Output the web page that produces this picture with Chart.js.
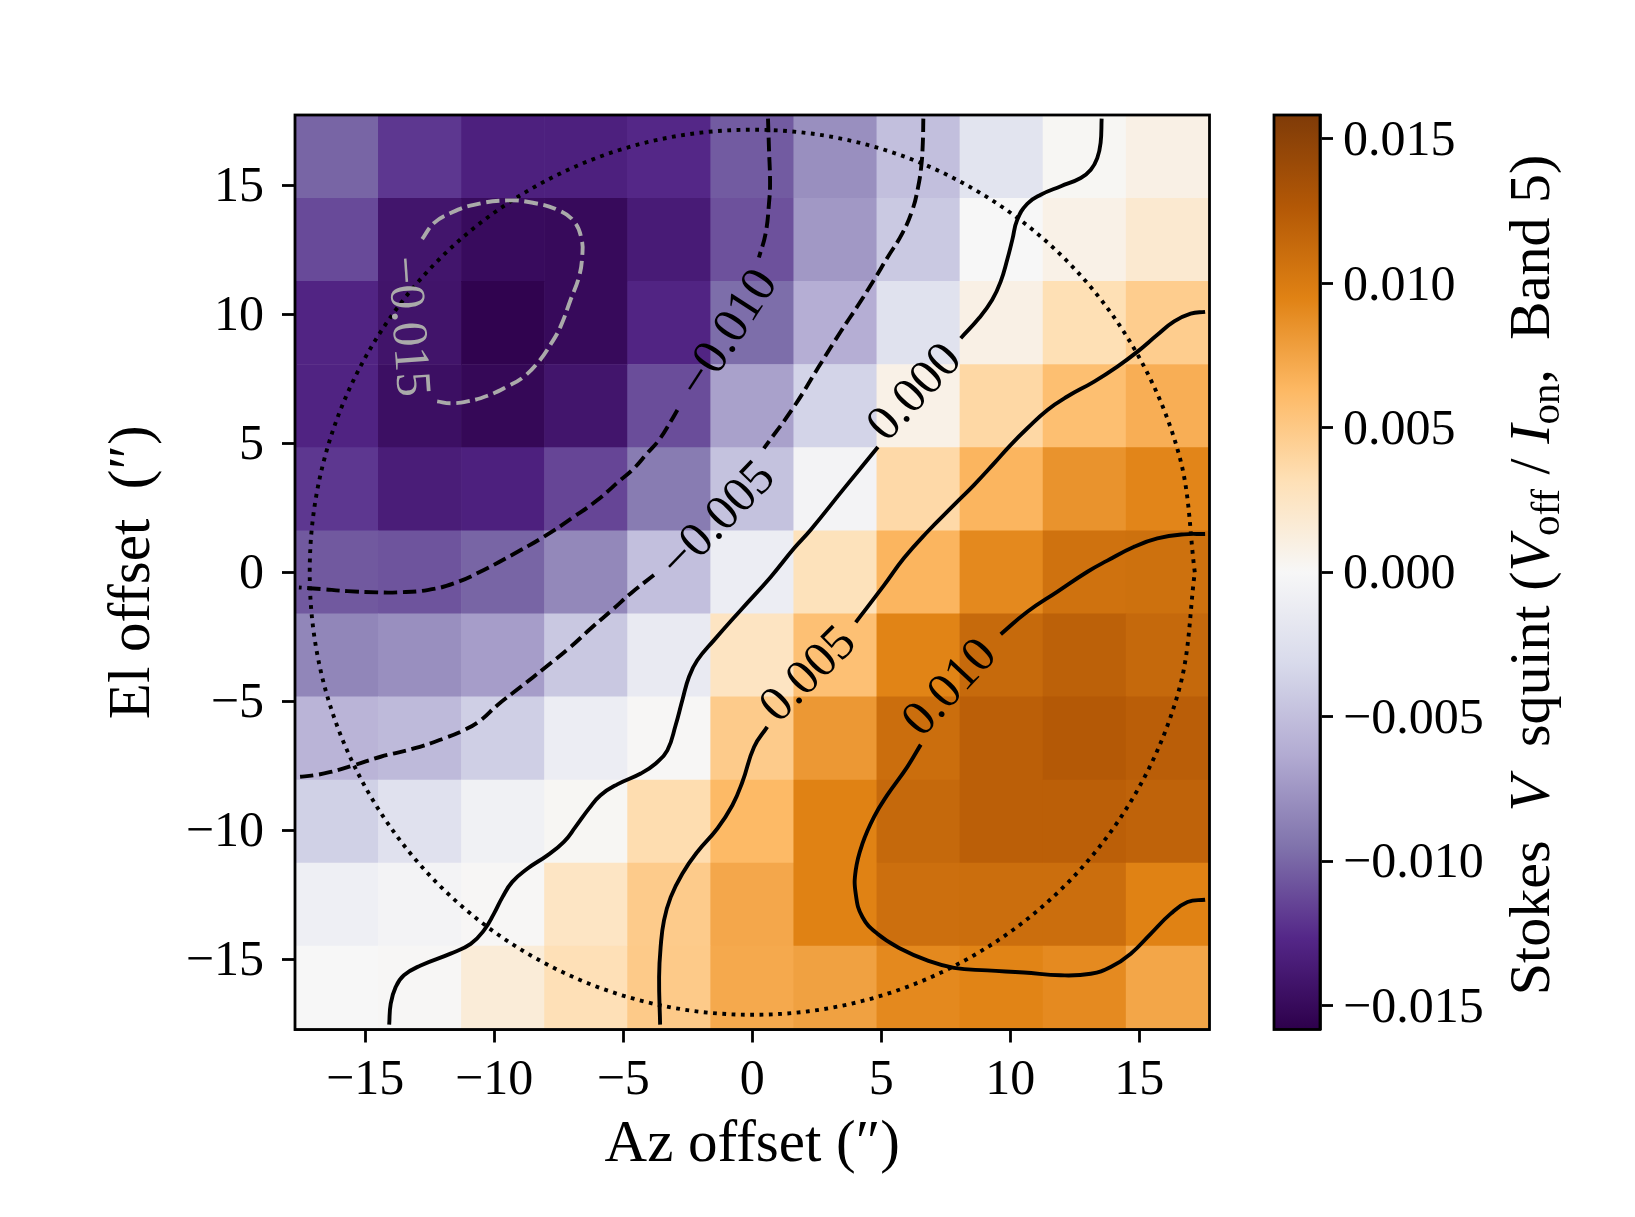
<!DOCTYPE html>
<html>
<head>
<meta charset="utf-8">
<title>Stokes V squint</title>
<script src="https://cdn.jsdelivr.net/npm/chart.js@4"></script>
<style>
html,body{margin:0;padding:0;background:#fff;}
#wrap{position:relative;width:1635px;height:1217px;overflow:hidden;}
canvas{position:absolute;left:0;top:0;}
</style>
</head>
<body>
<div id="wrap"><canvas id="main" width="1635" height="1217"></canvas><canvas id="bar" width="1635" height="1217"></canvas></div>
<script>
const xTickValues = [-15,-10,-5,0,5,10,15];
const yTickValues = [-15,-10,-5,0,5,10,15];
const barTickValues = [-0.015,-0.010,-0.005,0,0.005,0.010,0.015];
const axisLimit = 17.72;
const colorLimit = 0.01583;
const cellSize = 3.22;
const colCenters = [-16.1,-12.88,-9.66,-6.44,-3.22,0,3.22,6.44,9.66,12.88,16.1];
const rowCenters = [16.1,12.88,9.66,6.44,3.22,0,-3.22,-6.44,-9.66,-12.88,-16.1];
const row01 = [-0.0101,-0.0120,-0.0132,-0.0132,-0.0127,-0.0105,-0.0079,-0.0050,-0.0021,0.0002,0.0009];
const row02 = [-0.0112,-0.0141,-0.0149,-0.0150,-0.0136,-0.0109,-0.0074,-0.0043,0.0000,0.0008,0.0019];
const row03 = [-0.0129,-0.0142,-0.0156,-0.0150,-0.0129,-0.0097,-0.0061,-0.0023,0.0009,0.0032,0.0047];
const row04 = [-0.0130,-0.0146,-0.0152,-0.0141,-0.0111,-0.0069,-0.0036,0.0008,0.0038,0.0058,0.0069];
const row05 = [-0.0120,-0.0135,-0.0132,-0.0114,-0.0090,-0.0048,-0.0004,0.0037,0.0065,0.0085,0.0093];
const row06 = [-0.0106,-0.0108,-0.0101,-0.0083,-0.0050,-0.0011,0.0029,0.0065,0.0091,0.0107,0.0108];
const row07 = [-0.0084,-0.0079,-0.0071,-0.0044,-0.0014,0.0026,0.0057,0.0094,0.0113,0.0120,0.0114];
const row08 = [-0.0057,-0.0053,-0.0039,-0.0011,0.0001,0.0048,0.0082,0.0110,0.0121,0.0126,0.0122];
const row09 = [-0.0038,-0.0024,-0.0007,0.0002,0.0034,0.0062,0.0095,0.0114,0.0121,0.0121,0.0118];
const row10 = [-0.0009,-0.0004,0.0001,0.0025,0.0048,0.0073,0.0095,0.0109,0.0110,0.0110,0.0095];
const row11 = [0.0000,0.0001,0.0015,0.0031,0.0049,0.0072,0.0077,0.0091,0.0094,0.0090,0.0074];
const cellRows = [row01,row02,row03,row04,row05,row06,row07,row08,row09,row10,row11];
const colormapStops = ['#2d004b','#542788','#8073ac','#b2abd2','#d8daeb','#f7f7f7','#fee0b6','#fdb863','#e08214','#b35806','#7f3b08'];

const contourZeroUpper = [[13.54,17.58],[13.5,16.64],[13.37,16.05],[13.12,15.6],[12.73,15.28],[11.96,14.96],[11.18,14.63],[10.66,14.28],[10.27,13.66],[10.08,12.89],[9.88,12.11],[9.63,11.27],[9.3,10.56],[8.79,9.85],[8.08,9.07]];
const contourZeroLower = [[4.87,4.85],[3.56,3.25],[2.26,1.64],[1.62,0.93],[0.7,-0.2],[-0.45,-1.47],[-1.48,-2.63],[-2.13,-3.41],[-2.45,-4.05],[-2.71,-4.96],[-2.97,-5.93],[-3.29,-6.9],[-3.74,-7.41],[-4.32,-7.8],[-5.23,-8.22],[-5.88,-8.64],[-6.33,-9.16],[-6.85,-9.87],[-7.3,-10.45],[-7.94,-10.97],[-8.72,-11.49],[-9.3,-12.0],[-9.68,-12.59],[-10.01,-13.23],[-10.4,-13.88],[-10.91,-14.4],[-11.69,-14.78],[-12.85,-15.24],[-13.5,-15.62],[-13.82,-16.08],[-14.01,-16.72],[-14.07,-17.53]];
const contourP005Upper = [[17.55,10.09],[16.99,10.02],[16.35,9.72],[15.7,9.2],[14.93,8.55],[14.15,7.97],[13.25,7.39],[12.21,6.81],[11.44,6.29],[10.66,5.58],[10.01,4.93],[9.37,4.22],[8.59,3.38],[7.82,2.61],[6.79,1.57],[5.88,0.55],[5.11,-0.5],[4.01,-1.94]];
const contourP005Lower = [[0.58,-5.99],[0.07,-6.77],[-0.38,-8.12],[-0.77,-9.03],[-1.35,-9.93],[-2.13,-10.84],[-2.71,-11.68],[-3.16,-12.59],[-3.42,-13.49],[-3.55,-14.52],[-3.61,-15.69],[-3.57,-17.53]];
const contourP010Upper = [[17.55,1.48],[16.73,1.47],[15.7,1.31],[14.8,0.99],[13.76,0.45],[12.99,0.02],[11.83,-0.75],[10.66,-1.53],[9.63,-2.4]];
const contourP010Lower = [[6.53,-6.68],[6.01,-7.54],[5.23,-8.64],[4.72,-9.48],[4.27,-10.52],[4.01,-11.55],[4.01,-12.46],[4.27,-13.36],[4.85,-14.01],[5.75,-14.59],[6.78,-15.04],[7.82,-15.33],[9.11,-15.43],[10.53,-15.51],[11.95,-15.62],[13.12,-15.56],[13.89,-15.3],[14.67,-14.78],[15.44,-14.01],[16.22,-13.23],[16.87,-12.78],[17.55,-12.69]];
const contourM005Upper = [[6.63,17.58],[6.61,16.64],[6.55,15.73],[6.42,14.89],[6.21,14.05],[5.82,13.14],[5.23,12.18],[4.72,11.33],[4.07,10.3],[3.43,9.33],[2.58,7.97],[1.62,6.42],[0.45,4.8]];
const contourM005Lower = [[-3.81,-0.11],[-4.71,-0.82],[-5.36,-1.4],[-6.26,-2.18],[-7.04,-2.89],[-8.07,-3.73],[-8.97,-4.44],[-9.88,-5.15],[-10.52,-5.73],[-11.17,-6.12],[-11.95,-6.44],[-13.11,-6.83],[-14.4,-7.15],[-15.44,-7.48],[-16.34,-7.74],[-16.99,-7.87],[-17.57,-7.93]];
const contourM010Upper = [[0.61,17.58],[0.65,16.37],[0.69,15.08],[0.65,14.31],[0.52,13.14],[0.26,12.2]];
const contourM010Lower = [[-2.9,6.29],[-3.16,5.84],[-3.61,5.13],[-4.07,4.61],[-4.58,4.03],[-5.1,3.58],[-6,2.8],[-6.91,2.15],[-8.07,1.38],[-8.97,0.86],[-10.4,0.09],[-11.56,-0.43],[-12.59,-0.69],[-13.75,-0.78],[-14.53,-0.78],[-15.69,-0.73],[-16.73,-0.65],[-17.57,-0.59]];
const contourM015 = [[-12.79,12.91],[-12.34,13.53],[-11.69,13.92],[-10.79,14.24],[-9.49,14.41],[-8.46,14.31],[-7.56,14.05],[-6.91,13.6],[-6.61,12.89],[-6.59,12.24],[-6.71,11.46],[-7.04,10.56],[-7.43,9.52],[-7.82,8.82],[-8.27,8.17],[-8.85,7.58],[-9.49,7.2],[-10.26,6.84],[-11.04,6.62],[-11.69,6.55],[-12.21,6.62]];
const beamCircle = [[17.15,0],[16.57,4.44],[14.85,8.58],[12.13,12.13],[8.58,14.85],[4.44,16.57],[0,17.15],[-4.44,16.57],[-8.58,14.85],[-12.13,12.13],[-14.85,8.58],[-16.57,4.44],[-17.15,0],[-16.57,-4.44],[-14.85,-8.58],[-12.13,-12.13],[-8.58,-14.85],[-4.44,-16.57],[0,-17.15],[4.44,-16.57],[8.58,-14.85],[12.13,-12.13],[14.85,-8.58],[16.57,-4.44],[17.15,0]];

const contourLabels = [
  {text:'0.000', x:6.33, y:6.94, angle:-47, color:'#000'},
  {text:'0.005', x:2.2, y:-3.99, angle:-45, color:'#000'},
  {text:'0.010', x:7.69, y:-4.5, angle:-47, color:'#000'},
  {text:'\u22120.005', x:-1.3, y:2.0, angle:-46, color:'#000'},
  {text:'\u22120.010', x:-0.9, y:9.23, angle:-57, color:'#000'},
  {text:'\u22120.015', x:-13.4, y:9.52, angle:86, color:'#aaaaaa'}
];

const SERIF = '"Liberation Serif", serif';
const minus = s => String(s).replace('-', '\u2212');
const LW = 3.9, SPINE = 2.8, TICK = 13;

function hexRgb(h){ return [1,3,5].map(i => parseInt(h.substr(i,2),16)); }
function cmap(v){
  let t = (v + colorLimit) / (2*colorLimit);
  t = Math.max(0, Math.min(1, t)) * (colormapStops.length - 1);
  const i = Math.min(Math.floor(t), colormapStops.length - 2), f = t - i;
  const a = hexRgb(colormapStops[i]), b = hexRgb(colormapStops[i+1]);
  return 'rgb(' + a.map((c,k) => Math.round(c + (b[k]-c)*f)).join(',') + ')';
}
const pts = arr => arr.map(p => ({x:p[0], y:p[1]}));
const cellData = [], cellColors = [];
cellRows.forEach((row, r) => row.forEach((v, c) => {
  cellData.push({x: colCenters[c], y: [rowCenters[r]-cellSize/2, rowCenters[r]+cellSize/2]});
  cellColors.push(cmap(v));
}));
function contour(arr, dash, color){
  return {type:'scatter', showLine:true, data:pts(arr), borderColor:color||'#000', borderWidth:LW,
    borderDash:dash||[], borderCapStyle:'butt', pointRadius:0, tension:0.45, order:1, fill:false};
}
const DASH = [13.5,5.7];

const spinePlugin = {id:'spine', afterDatasetsDraw(chart){
  const {ctx, chartArea:a} = chart;
  ctx.save(); ctx.strokeStyle='#000'; ctx.lineWidth=SPINE;
  ctx.strokeRect(a.left, a.top, a.right-a.left, a.bottom-a.top); ctx.restore();
}};
const labelPlugin = {id:'clabels', afterDatasetsDraw(chart){
  const {ctx, scales} = chart;
  contourLabels.forEach(l => {
    ctx.save();
    ctx.translate(scales.x.getPixelForValue(l.x), scales.y.getPixelForValue(l.y));
    ctx.rotate(l.angle*Math.PI/180);
    ctx.font = '50px ' + SERIF; ctx.fillStyle = l.color;
    ctx.textAlign='center'; ctx.textBaseline='middle';
    ctx.fillText(l.text, 0, 0);
    ctx.restore();
  });
}};
const tickGrid = {display:true, offset:false, drawOnChartArea:false, drawTicks:true, tickLength:TICK, tickWidth:SPINE, tickColor:'#000'};
const baseScale = {
  type:'linear', min:-axisLimit, max:axisLimit,
  border:{display:true, color:'#000', width:SPINE},
  grid:tickGrid
};
new Chart(document.getElementById('main'), {
  type:'bar',
  data:{datasets:[
    {type:'bar', data:cellData, backgroundColor:cellColors, borderWidth:0, grouped:false, barPercentage:1, categoryPercentage:1, order:10},
    contour(contourZeroUpper), contour(contourZeroLower),
    contour(contourP005Upper), contour(contourP005Lower),
    contour(contourP010Upper), contour(contourP010Lower),
    contour(contourM005Upper, DASH), contour(contourM005Lower, DASH),
    contour(contourM010Upper, DASH), contour(contourM010Lower, DASH),
    contour(contourM015, DASH, '#aaaaaa'),
    Object.assign(contour(beamCircle, [3.8,5.5]), {tension:0.34})
  ]},
  options:{
    responsive:false, devicePixelRatio:1, animation:false, events:[],
    layout:{padding:{left:0, right:425.5, top:115, bottom:0}},
    plugins:{legend:{display:false}, tooltip:{enabled:false}},
    scales:{
      x:Object.assign({}, baseScale, {
        offset:false, position:'bottom',
        afterBuildTicks:s => { s.ticks = xTickValues.map(v => ({value:v})); },
        afterFit:s => { s.height = 187.5; },
        ticks:{font:{family:SERIF, size:50}, color:'#000', padding:8, maxRotation:0, autoSkip:false, callback:minus},
        title:{display:true, text:'Az offset (\u2033)', font:{family:SERIF, size:59}, color:'#000', padding:{top:0,bottom:36}}
      }),
      y:Object.assign({}, baseScale, {
        position:'left',
        afterBuildTicks:s => { s.ticks = yTickValues.map(v => ({value:v})); },
        afterFit:s => { s.width = 295; },
        ticks:{font:{family:SERIF, size:50}, color:'#000', padding:18, labelOffset:3, autoSkip:false, callback:minus},
        title:{display:true, text:'El offset  (\u2033)', font:{family:SERIF, size:59}, color:'#000', padding:{top:98,bottom:0}}
      })
    }
  },
  plugins:[spinePlugin, labelPlugin]
});

const barTitleRuns = [
  {t:'Stokes  '},{t:'V', i:1},{t:'  squint ('},{t:'V', i:1},{t:'off', s:1},{t:' / '},{t:'I', i:1},{t:'on', s:1},{t:',  Band 5)'}
];
const barTitlePlugin = {id:'barTitle', afterDraw(chart){
  const {ctx} = chart, size = 58;
  const font = r => (r.i ? 'italic ' : '') + (r.s ? Math.round(size*0.7) : size) + 'px ' + SERIF;
  let total = 0;
  ctx.save();
  barTitleRuns.forEach(r => { ctx.font = font(r); r.w = ctx.measureText(r.t).width; total += r.w; });
  ctx.translate(1549, 575);
  ctx.rotate(-Math.PI/2);
  ctx.fillStyle = '#000'; ctx.textBaseline='alphabetic'; ctx.textAlign='left';
  let x = -total/2;
  barTitleRuns.forEach(r => { ctx.font = font(r); ctx.fillText(r.t, x, r.s ? 10 : 0); x += r.w; });
  ctx.restore();
}};
new Chart(document.getElementById('bar'), {
  type:'bar',
  data:{labels:['V'], datasets:[{
    data:[[-colorLimit, colorLimit]], borderWidth:0, barPercentage:1, categoryPercentage:1,
    backgroundColor:c => {
      const a = c.chart.chartArea; if(!a) return '#888';
      const g = c.chart.ctx.createLinearGradient(0, a.bottom, 0, a.top);
      colormapStops.forEach((col,i) => g.addColorStop(i/(colormapStops.length-1), col));
      return g;
    }
  }]},
  options:{
    responsive:false, devicePixelRatio:1, animation:false, events:[],
    layout:{padding:{left:1274, right:0, top:115, bottom:187.5}},
    plugins:{legend:{display:false}, tooltip:{enabled:false}},
    scales:{
      x:{display:false},
      y:{type:'linear', position:'right', min:-colorLimit, max:colorLimit,
        border:{display:true, color:'#000', width:SPINE},
        grid:tickGrid,
        afterBuildTicks:s => { s.ticks = barTickValues.map(v => ({value:v})); },
        afterFit:s => { s.width = 315; },
        ticks:{font:{family:SERIF, size:50}, color:'#000', padding:10, labelOffset:3, autoSkip:false,
          callback:v => minus(Number(v).toFixed(3))}
      }
    }
  },
  plugins:[spinePlugin, barTitlePlugin]
});
</script>
</body>
</html>
